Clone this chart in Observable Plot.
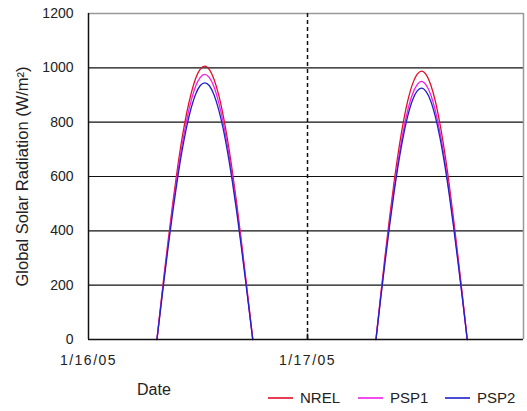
<!DOCTYPE html>
<html>
<head>
<meta charset="utf-8">
<script src="https://cdn.jsdelivr.net/npm/d3@7"></script>
<script src="https://cdn.jsdelivr.net/npm/@observablehq/plot@0.6"></script>
<style>
  html, body { margin: 0; padding: 0; background: #fff; }
  body { width: 527px; height: 411px; overflow: hidden; font-family: "Liberation Sans", Arial, sans-serif; color: #222; }
  #chart svg { display: block; }
  #foot { position: relative; height: 36px; }
  #foot .xlabel { position: absolute; left: 137px; top: 6px; font-size: 16px; }
  #foot .legend { position: absolute; top: 14px; font-size: 15px; display: flex; align-items: center; }
  #foot .legend svg { margin-right: 7px; display: block; }
</style>
</head>
<body>
<div id="chart"></div>
<div id="foot"></div>
<script>
// Global solar radiation measured by three instruments, 16–17 January 2005
const series = ["NREL", "PSP1", "PSP2"];
const colors = ["#e0102a", "#f020e8", "#2020c8"];

const day1 = "2005-01-16";
const times1 = ["07:30", "07:45", "08:15", "08:45", "09:15", "09:45", "10:15", "10:45", "11:15", "11:45", "12:15", "12:45",
                "13:15", "13:45", "14:15", "14:45", "15:15", "15:45", "16:15", "16:45", "17:15", "17:45", "18:00"];
const nrel1 = [0, 78, 228, 370, 506, 630, 740, 832, 906, 962, 995, 1006, 993, 958, 902, 826, 732, 622, 498, 362, 220, 74, 0];
const psp1_1 = [0, 72, 218, 356, 489, 609, 716, 806, 879, 933, 965, 976, 964, 930, 875, 801, 709, 602, 482, 350, 212, 70, 0];
const psp2_1 = [0, 70, 211, 346, 474, 590, 694, 782, 852, 904, 935, 945, 934, 901, 848, 777, 688, 584, 468, 340, 206, 68, 0];

const day2 = "2005-01-17";
const times2 = ["07:30", "08:00", "08:30", "09:00", "09:30", "10:00", "10:30", "11:00", "11:30", "12:00", "12:30",
                "13:00", "13:30", "14:00", "14:30", "15:00", "15:30", "16:00", "16:30", "17:00", "17:30"];
const nrel2 = [0, 158, 308, 451, 583, 700, 800, 881, 940, 976, 988, 975, 938, 878, 796, 695, 577, 444, 302, 153, 0];
const psp1_2 = [0, 150, 295, 432, 559, 672, 769, 846, 903, 937, 950, 936, 901, 843, 765, 667, 553, 426, 290, 147, 0];
const psp2_2 = [0, 146, 287, 421, 545, 655, 749, 825, 881, 914, 925, 912, 878, 821, 745, 650, 540, 415, 282, 143, 0];

const yTicks = [0, 200, 400, 600, 800, 1000, 1200];
const xTickLabels = ["1/16/05", "1/17/05"];
const xStart = new Date("2005-01-16T00:00Z");
const xEnd = new Date("2005-01-17T23:40Z");
const xTicks = [new Date("2005-01-16T00:00Z"), new Date("2005-01-17T00:00Z")];

// Long-format rows, one line per instrument per day
const rows = [];
function addDay(day, times, valuesBySeries) {
  valuesBySeries.forEach((vals, s) => {
    vals.forEach((v, i) => rows.push({
      date: new Date(`${day}T${times[i]}Z`),
      value: v,
      series: series[s],
      day
    }));
  });
}
addDay(day1, times1, [nrel1, psp1_1, psp2_1]);
addDay(day2, times2, [nrel2, psp1_2, psp2_2]);

const chart = Plot.plot({
  width: 527,
  height: 375,
  marginTop: 13,
  marginBottom: 36,
  marginLeft: 88,
  marginRight: 4,
  style: { fontFamily: "Liberation Sans, Arial, sans-serif", color: "#222", background: "#fff", overflow: "visible" },
  x: { type: "utc", domain: [xStart, xEnd] },
  y: { domain: [0, 1200] },
  color: { domain: series, range: colors },
  marks: [
    // horizontal gridlines
    Plot.ruleY(yTicks.filter(d => d > 0 && d < 1200), { stroke: "#111", strokeWidth: 1.2 }),
    // plot-area border (top and right)
    Plot.ruleY([1200], { stroke: "#999", strokeWidth: 1.5 }),
    Plot.ruleX([xEnd], { stroke: "#999", strokeWidth: 1.5 }),
    // day separator
    Plot.ruleX(xTicks.slice(1), { stroke: "#111", strokeWidth: 1.5, strokeDasharray: "4,3" }),
    // measurement curves
    Plot.line(rows, { x: "date", y: "value", z: d => d.series + d.day, stroke: "series", strokeWidth: 1.3, curve: "monotone-x" }),
    // axes
    Plot.ruleX([xStart], { stroke: "#111", strokeWidth: 1.5 }),
    Plot.ruleY([0], { stroke: "#111", strokeWidth: 1.5 }),
    Plot.ruleX(xTicks.slice(1), { y1: 0, y2: 20, stroke: "#111", strokeWidth: 1.5 }),
    Plot.axisY({ ticks: yTicks, tickSize: 0, tickPadding: 15, fontSize: 14, label: null, tickFormat: d3.format("d") }),
    Plot.axisX({ ticks: xTicks, tickSize: 0, tickPadding: 16, fontSize: 14, label: null,
                 tickFormat: (d, i) => xTickLabels[i] }),
    Plot.text(["Global Solar Radiation (W/m²)"], { frameAnchor: "left", textAnchor: "middle", rotate: -90, dx: -66, fontSize: 16.5, fill: "#222" })
  ]
});
document.getElementById("chart").append(chart);
d3.select(chart).selectAll("g[aria-label='x-axis tick label'] text").style("letter-spacing", "1.5px");

// footer: axis title and legend
const foot = d3.select("#foot");
foot.append("div").attr("class", "xlabel").text("Date");
const legendLeft = [268, 358, 445];
series.forEach((s, i) => {
  const item = foot.append("div").attr("class", "legend").style("left", legendLeft[i] + "px");
  const sw = item.append("svg").attr("width", 25).attr("height", 6);
  sw.append("line").attr("x1", 0).attr("x2", 25).attr("y1", 3).attr("y2", 3)
    .attr("stroke", colors[i]).attr("stroke-width", 1.6);
  item.append("span").text(s);
});
</script>
</body>
</html>
